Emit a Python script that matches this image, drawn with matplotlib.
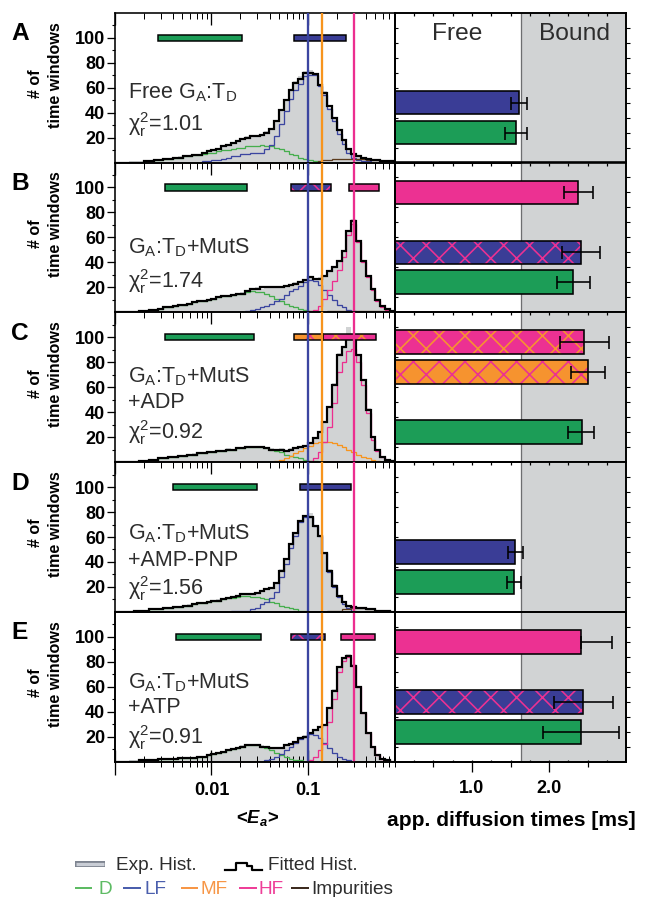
import numpy as np
import matplotlib
matplotlib.use('Agg')
import matplotlib.pyplot as plt
from matplotlib.lines import Line2D
from matplotlib.ticker import NullLocator

DPI = 155
W, H = 646, 897


def pt(px):
    return px * 72.0 / DPI


plt.rcParams['font.family'] = ['Liberation Sans', 'DejaVu Sans']
plt.rcParams['mathtext.fontset'] = 'custom'
plt.rcParams['mathtext.rm'] = 'Liberation Sans'
plt.rcParams['mathtext.it'] = 'Liberation Sans:italic'
plt.rcParams['mathtext.bf'] = 'Liberation Sans:italic:bold'
plt.rcParams['hatch.linewidth'] = pt(1.6)
plt.rcParams['axes.linewidth'] = pt(1.6)

# ------------------------------------------------------------------ data
# log-spaced histogram bins of <E_a>: 10^-3 ... 10^-0.1, 0.05 decade wide
n_bins = 58
edges = 10 ** (-3.0 + 0.05 * np.arange(n_bins + 1))

# experimental histograms (counts per bin)
exp_A = [0, 0, 0, 1, 1, 1, 1, 2, 2, 3, 3, 3, 4, 5, 5, 6, 6, 7, 8, 9,
         10, 12, 13, 15, 16, 18, 19, 21, 21, 22, 23, 25, 28, 34, 43, 51, 59, 65, 69, 73,
         74, 70, 61, 57, 44, 36, 26, 19, 12, 8, 6, 4, 3, 3, 2, 2, 1, 1]
exp_B = [0, 0, 1, 1, 1, 1, 2, 2, 3, 3, 4, 4, 5, 6, 7, 7, 8, 9, 10, 10,
         11, 12, 13, 14, 14, 15, 16, 17, 18, 20, 19, 21, 20, 21, 20, 22, 22, 24, 25, 26,
         28, 27, 28, 30, 34, 37, 42, 50, 66, 75, 58, 41, 28, 19, 10, 5, 2, 1]
exp_C = [0, 0, 0, 1, 1, 1, 1, 2, 2, 3, 3, 4, 5, 5, 6, 6, 7, 7, 8, 8,
         9, 9, 10, 11, 10, 11, 12, 12, 13, 12, 13, 12, 11, 10, 11, 10, 11, 12, 13, 14,
         16, 19, 25, 33, 45, 63, 87, 92, 108, 98, 86, 66, 43, 21, 10, 4, 2, 1]
exp_D = [0, 0, 0, 1, 1, 1, 1, 2, 2, 3, 3, 3, 4, 4, 5, 6, 6, 7, 8, 8,
         9, 10, 10, 11, 12, 13, 14, 15, 15, 15, 17, 18, 19, 24, 34, 43, 55, 64, 74, 78,
         79, 70, 60, 48, 34, 22, 13, 8, 5, 4, 3, 3, 2, 2, 1, 1, 1, 0]
exp_E = [0, 0, 0, 1, 1, 1, 1, 1, 2, 2, 2, 2, 3, 3, 3, 3, 4, 4, 4, 5,
         6, 7, 8, 9, 10, 12, 13, 14, 13, 14, 13, 12, 12, 11, 12, 13, 14, 16, 19, 21,
         23, 25, 28, 30, 42, 58, 77, 84, 86, 78, 61, 40, 23, 12, 6, 2, 1, 0]

# fitted components: (first bin index, counts)
D_A = (6, [1, 1, 2, 2, 3, 3, 4, 4, 5, 5, 6, 6, 7, 8, 8, 9, 10, 10, 11, 12, 12, 13, 13, 13,
           14, 13, 13, 12, 11, 9, 7, 6, 4, 3, 2, 1])
LF_A = (18, [1, 1, 2, 2, 3, 4, 5, 5, 7, 7, 8, 8, 8, 11, 14, 21, 31, 41, 51, 58, 63, 69, 70, 70,
             61, 54, 43, 33, 23, 15, 8, 4, 2, 1, 1])
imp_A = (42, [1, 2, 2, 3, 3, 3, 3, 3, 3, 3, 2, 2, 2, 1, 1, 1])

D_B = (5, [1, 1, 2, 2, 3, 4, 4, 5, 6, 6, 7, 8, 9, 9, 10, 11, 12, 13, 13, 14, 15, 15, 16, 17,
           16, 16, 15, 13, 11, 9, 7, 5, 4, 3, 2, 1])
LF_B = (27, [1, 2, 3, 4, 5, 7, 9, 11, 14, 17, 19, 21, 24, 26, 25, 22, 18, 14, 10, 6, 4, 2, 1])
HF_B = (40, [1, 2, 5, 11, 18, 25, 34, 44, 62, 71, 56, 40, 28, 18, 9, 4, 2, 1])
imp_B = (44, [1, 1, 1, 1, 1, 1, 1, 1, 1, 1, 1, 1, 1])

D_C = (5, [1, 1, 2, 2, 3, 3, 4, 4, 5, 5, 6, 6, 7, 7, 8, 8, 9, 9, 10, 10, 11, 11, 12, 12,
           12, 12, 11, 10, 9, 8, 6, 5, 4, 3, 2, 1, 1])
MF_C = (33, [1, 2, 3, 5, 7, 9, 11, 13, 15, 16, 16, 16, 15, 14, 12, 10, 8, 6, 4, 3, 2, 1])
HF_C = (40, [1, 3, 8, 16, 28, 47, 72, 80, 89, 91, 80, 62, 39, 18, 9, 4, 2, 1])

D_D = (4, [1, 1, 1, 2, 2, 2, 3, 3, 4, 4, 5, 5, 6, 7, 7, 8, 9, 9, 10, 11, 11, 12, 13, 13,
           12, 12, 11, 10, 8, 7, 5, 4, 3, 2, 1, 1])
LF_D = (24, [1, 1, 1, 1, 2, 3, 6, 8, 11, 16, 28, 38, 51, 61, 72, 76, 76, 69, 61, 47, 32, 20,
             12, 6, 3, 1])
imp_D = (44, [1, 1, 1, 2, 2, 3, 3, 3, 2, 2, 1, 1, 1])

D_E = (5, [1, 1, 1, 1, 2, 2, 2, 2, 3, 3, 3, 3, 4, 4, 5, 6, 7, 8, 9, 10, 11, 12, 13, 13,
           13, 12, 11, 9, 7, 5, 4, 2, 1, 1])
LF_E = (31, [1, 2, 4, 6, 9, 12, 15, 18, 20, 22, 21, 19, 15, 11, 7, 4, 2, 1])
HF_E = (40, [1, 4, 9, 14, 32, 50, 72, 81, 84, 77, 60, 39, 23, 12, 5, 2, 1])

# species marker lines (E values)
vline_species = ['LF', 'MF', 'HF']
vline_E = [0.1, 0.14, 0.3]

# E ranges shown as horizontal bars: (species, low E, high E, hatch species)
ranges_A = [('D', 0.0028, 0.0207, None), ('LF', 0.0718, 0.251, None)]
ranges_B = [('D', 0.00328, 0.0232, None), ('LF', 0.0675, 0.172, 'HF'), ('HF', 0.267, 0.546, None)]
ranges_C = [('D', 0.00328, 0.0274, None), ('MF', 0.0718, 0.145, 'HF'), ('HF', 0.145, 0.505, 'MF')]
ranges_D = [('D', 0.0040, 0.030, None), ('LF', 0.082, 0.278, None)]
ranges_E = [('D', 0.00424, 0.0324, None), ('LF', 0.0675, 0.149, 'HF'), ('HF', 0.222, 0.50, None)]

# apparent diffusion times [ms]
species_A = ['LF', 'D']
tau_A = [1.61, 1.57]
errlo_A = [0.105, 0.14]
errhi_A = [0.105, 0.14]
hatch_A = [None, None]

species_B = ['HF', 'LF', 'D']
tau_B = [2.38, 2.42, 2.31]
errlo_B = [0.19, 0.25, 0.21]
errhi_B = [0.19, 0.24, 0.22]
hatch_B = [None, 'HF', None]

species_C = ['HF', 'MF', 'D']
tau_C = [2.46, 2.51, 2.43]
errlo_C = [0.32, 0.22, 0.18]
errhi_C = [0.32, 0.22, 0.16]
hatch_C = ['MF', 'HF', None]

species_D = ['LF', 'D']
tau_D = [1.56, 1.55]
errlo_D = [0.095, 0.09]
errhi_D = [0.10, 0.09]
hatch_D = [None, None]

species_E = ['HF', 'LF', 'D']
tau_E = [2.41, 2.44, 2.41]
errlo_E = [0.0, 0.38, 0.49]
errhi_E = [0.41, 0.39, 0.50]
hatch_E = [None, 'HF', None]

bound_from = 1.64   # start of the "Bound" region [ms]

text_A = ['Free G$_\\mathrm{A}$:T$_\\mathrm{D}$', 'χ$_\\mathrm{r}^\\mathrm{2}$=1.01']
text_B = ['G$_\\mathrm{A}$:T$_\\mathrm{D}$+MutS', 'χ$_\\mathrm{r}^\\mathrm{2}$=1.74']
text_C = ['G$_\\mathrm{A}$:T$_\\mathrm{D}$+MutS', '+ADP', 'χ$_\\mathrm{r}^\\mathrm{2}$=0.92']
text_D = ['G$_\\mathrm{A}$:T$_\\mathrm{D}$+MutS', '+AMP-PNP', 'χ$_\\mathrm{r}^\\mathrm{2}$=1.56']
text_E = ['G$_\\mathrm{A}$:T$_\\mathrm{D}$+MutS', '+ATP', 'χ$_\\mathrm{r}^\\mathrm{2}$=0.91']

y_ticks = [20, 40, 60, 80, 100]
y_ticklabels = ['20', '40', '60', '80', '100']
x_left_ticks = [1e-3, 1e-2, 1e-1]
x_left_ticklabels = ['', '0.01', '0.1']
x_right_ticks = [1.0, 2.0]
x_right_ticklabels = ['1.0', '2.0']

# ------------------------------------------------------------------ style
bar_colors = {'D': '#1c9d57', 'LF': '#3a3d96', 'MF': '#f6932f', 'HF': '#ec3192'}
line_colors = {'D': '#45ae4d', 'LF': '#3b45a0', 'MF': '#f7941d', 'HF': '#ec2e8f',
               'imp': '#5b3b1e'}
slot_y = {'HF': 96, 'MF': 72, 'LF': 48, 'D': 24}
hist_gray = '#d1d3d4'
txt_col = '#2d2d2d'

panels = [
    dict(letter='A', exp=exp_A, comps=[('D', D_A), ('LF', LF_A), ('imp', imp_A)],
         ranges=ranges_A, sp=species_A, tau=tau_A, lo=errlo_A, hi=errhi_A, hat=hatch_A,
         text=text_A, ty=[0.465, 0.255]),
    dict(letter='B', exp=exp_B, comps=[('D', D_B), ('LF', LF_B), ('HF', HF_B), ('imp', imp_B)],
         ranges=ranges_B, sp=species_B, tau=tau_B, lo=errlo_B, hi=errhi_B, hat=hatch_B,
         text=text_B, ty=[0.43, 0.205]),
    dict(letter='C', exp=exp_C, comps=[('D', D_C), ('MF', MF_C), ('HF', HF_C)],
         ranges=ranges_C, sp=species_C, tau=tau_C, lo=errlo_C, hi=errhi_C, hat=hatch_C,
         text=text_C, ty=[0.57, 0.40, 0.20]),
    dict(letter='D', exp=exp_D, comps=[('D', D_D), ('LF', LF_D), ('imp', imp_D)],
         ranges=ranges_D, sp=species_D, tau=tau_D, lo=errlo_D, hi=errhi_D, hat=hatch_D,
         text=text_D, ty=[0.52, 0.34, 0.155]),
    dict(letter='E', exp=exp_E, comps=[('D', D_E), ('LF', LF_E), ('HF', HF_E)],
         ranges=ranges_E, sp=species_E, tau=tau_E, lo=errlo_E, hi=errhi_E, hat=hatch_E,
         text=text_E, ty=[0.525, 0.36, 0.16]),
]

fig = plt.figure(figsize=(W / DPI, H / DPI), dpi=DPI)


def rect(x0, y0, x1, y1):
    return [x0 / W, 1 - y1 / H, (x1 - x0) / W, (y1 - y0) / H]


def expand(comp):
    start, vals = comp
    a = np.zeros(n_bins)
    a[start:start + len(vals)] = vals
    return a


def hbar(ax, y, left, width, height, face, hatch_col, lw, z):
    if hatch_col is None:
        ax.barh(y, width, left=left, height=height, color=face, edgecolor='black',
                linewidth=lw, zorder=z)
    else:
        ax.barh(y, width, left=left, height=height, color=face, edgecolor=hatch_col,
                hatch='xx', linewidth=0, zorder=z)
        ax.barh(y, width, left=left, height=height, fill=False, edgecolor='black',
                linewidth=lw, zorder=z + 0.1)


top0, ph = 12.7, 149.8
XL0, XL1, XR1 = 115, 395, 626

for i, p in enumerate(panels):
    ytop = top0 + i * ph
    ybot = ytop + ph
    last = (i == len(panels) - 1)

    # ---------------- left: histograms
    axL = fig.add_axes(rect(XL0, ytop, XL1, ybot))
    axL.set_facecolor('none')
    axL.set_xscale('log')
    axL.set_xlim(1e-3, 0.8)
    axL.set_ylim(0, 120)

    axL.stairs(p['exp'], edges, fill=True, color=hist_gray, linewidth=0, zorder=1)
    fitted = np.zeros(n_bins)
    for name, comp in p['comps']:
        start, vals = comp
        fitted += expand(comp)
        axL.stairs(vals, edges[start:start + len(vals) + 1], color=line_colors[name],
                   linewidth=pt(1.3), zorder=2)
    axL.stairs(fitted, edges, color='black', linewidth=pt(2.2), zorder=3)

    for name, lo, hi, hsp in p['ranges']:
        hbar(axL, 100, lo, hi - lo, 5, bar_colors[name],
             None if hsp is None else bar_colors[hsp], pt(1.5), 4)

    for name, e in zip(vline_species, vline_E):
        axL.axvline(e, color=line_colors[name], linewidth=pt(2.3), zorder=5)

    for s, yy in zip(p['text'], p['ty']):
        axL.text(0.045, yy, s, transform=axL.transAxes, ha='left', va='center',
                 fontsize=pt(21.5), color=txt_col, zorder=6)

    axL.set_yticks(y_ticks)
    axL.set_yticklabels(y_ticklabels, fontweight='bold', fontsize=pt(18))
    axL.set_yticks(np.arange(10, 120, 10), minor=True)
    axL.tick_params(axis='y', which='major', direction='out', length=pt(8), width=pt(1.3),
                    pad=pt(2), right=False)
    axL.tick_params(axis='y', which='minor', direction='out', length=pt(3.5), width=pt(1.1),
                    right=False)
    axL.set_xticks(x_left_ticks)
    axL.tick_params(axis='x', which='both', top=True, bottom=False, labelbottom=False,
                    direction='in')
    axL.tick_params(axis='x', which='major', length=pt(12), width=pt(1.3))
    axL.tick_params(axis='x', which='minor', length=pt(6), width=pt(1.0))

    if last:
        axB = axL.twiny()
        axB.set_xscale('log')
        axB.set_xlim(axL.get_xlim())
        axB.xaxis.set_ticks_position('bottom')
        axB.set_xticks(x_left_ticks, x_left_ticklabels, fontweight='bold', fontsize=pt(18))
        axB.tick_params(axis='x', which='major', direction='out', length=pt(13),
                        width=pt(1.3), pad=pt(7))
        axB.tick_params(axis='x', which='minor', direction='out', length=pt(5), width=pt(1.0))

    # ---------------- right: diffusion times
    axR = fig.add_axes(rect(XL1, ytop, XR1, ybot))
    axR.set_facecolor('none')
    axR.set_xlim(0, 3.0)
    axR.set_ylim(0, 120)
    axR.axvspan(bound_from, 3.0, color=hist_gray, linewidth=0, zorder=0)
    axR.axvline(bound_from, color='#6d6e70', linewidth=pt(1.3), zorder=0.5)

    for sp, t, lo, hi, hsp in zip(p['sp'], p['tau'], p['lo'], p['hi'], p['hat']):
        hbar(axR, slot_y[sp], 0, t, 19, bar_colors[sp],
             None if hsp is None else bar_colors[hsp], pt(1.6), 2)
        axR.errorbar([t], [slot_y[sp]], xerr=[[lo], [hi]], fmt='none', ecolor='black',
                     elinewidth=pt(1.6), capsize=pt(6.5), capthick=pt(1.6), zorder=4)

    axR.set_xticks(np.arange(0.25, 3.0, 0.25))
    axR.xaxis.set_minor_locator(NullLocator())
    axR.tick_params(axis='x', top=True, bottom=False, labelbottom=False, direction='in',
                    length=pt(2.5), width=pt(1.2))
    axR.set_yticks(np.arange(12, 120, 12))
    axR.yaxis.set_minor_locator(NullLocator())
    axR.tick_params(axis='y', left=True, right=False, labelleft=False, direction='in',
                    length=pt(3), width=pt(1.1))
    axRy = axR.twinx()
    axRy.set_ylim(0, 120)
    axRy.set_yticks(np.arange(12, 120, 12))
    axRy.tick_params(axis='y', direction='out', length=pt(4), width=pt(1.1),
                     labelright=False)

    if i == 0:
        axR.text(0.268, 0.855, 'Free', transform=axR.transAxes, ha='center', va='center',
                 fontsize=pt(24.5), color=txt_col)
        axR.text(0.775, 0.855, 'Bound', transform=axR.transAxes, ha='center', va='center',
                 fontsize=pt(24.5), color=txt_col)

    if last:
        axRB = axR.twiny()
        axRB.set_xlim(0, 3.0)
        axRB.xaxis.set_ticks_position('bottom')
        axRB.set_xticks(x_right_ticks, x_right_ticklabels, fontweight='bold',
                        fontsize=pt(18))
        axRB.set_xticks([0.5, 1.5, 2.5], minor=True)
        axRB.tick_params(axis='x', which='major', direction='out', length=pt(10),
                         width=pt(1.3), pad=pt(8))
        axRB.tick_params(axis='x', which='minor', direction='out', length=pt(5),
                         width=pt(1.2))

    # panel letter and y-label (two lines)
    fig.text(20 / W, 1 - (ytop + 21) / H, p['letter'], ha='center', va='center',
             fontsize=pt(24.5), fontweight='bold')
    fig.text(35 / W, 1 - (ytop + 71) / H, '# of', rotation=90, ha='center',
             va='center', fontsize=pt(16.2), fontweight='bold')
    fig.text(55 / W, 1 - (ytop + 62) / H, 'time windows', rotation=90, ha='center',
             va='center', fontsize=pt(16.2), fontweight='bold')

# axis titles
fig.text(258 / W, 1 - 818 / H, r'<$\mathbf{E_a}$>', ha='center', va='center',
         fontsize=pt(18.5), fontweight='bold')
fig.text(511 / W, 1 - 821 / H, 'app. diffusion times [ms]', ha='center', va='center',
         fontsize=pt(21), fontweight='bold')

# ------------------------------------------------------------------ legend
tr = fig.transFigure


def fx(x):
    return np.asarray(x, dtype=float) / W


def fy(y):
    return 1 - np.asarray(y, dtype=float) / H


fig.add_artist(Line2D(fx([75, 105]), fy([864, 864]), transform=tr, color='#7f8591',
                      linewidth=pt(6), solid_capstyle='butt'))
fig.add_artist(Line2D(fx([76, 104]), fy([864, 864]), transform=tr, color='#c9cdd5',
                      linewidth=pt(3.2), solid_capstyle='butt'))
fig.text(fx(116), fy(870), 'Exp. Hist.', ha='left', va='baseline', fontsize=pt(19),
         color=txt_col)
fig.add_artist(Line2D(fx([225, 236, 236, 247, 247, 252, 252, 262]),
                      fy([870, 870, 863, 863, 866, 866, 870, 870]), transform=tr,
                      color='black', linewidth=pt(2.2)))
fig.text(fx(268), fy(870), 'Fitted Hist.', ha='left', va='baseline', fontsize=pt(19),
         color=txt_col)

legend_text_col = {'D': '#5dbb63', 'LF': '#4b5fad', 'MF': '#f79646', 'HF': '#ee3f98'}
for name, lx0, lx1, tx in [('D', 76, 91, 98), ('LF', 124, 140, 144),
                           ('MF', 182, 197, 200), ('HF', 240, 256, 259)]:
    fig.add_artist(Line2D(fx([lx0, lx1]), fy([888, 888]), transform=tr,
                          color=legend_text_col[name], linewidth=pt(2)))
    fig.text(fx(tx), fy(894), name, ha='left', va='baseline', fontsize=pt(19),
             color=legend_text_col[name])
fig.add_artist(Line2D(fx([292, 308]), fy([888, 888]), transform=tr,
                      color='#3d2b1f', linewidth=pt(2)))
fig.text(fx(311), fy(894), 'Impurities', ha='left', va='baseline', fontsize=pt(19),
         color=txt_col)

fig.savefig('out.png', dpi=DPI)
